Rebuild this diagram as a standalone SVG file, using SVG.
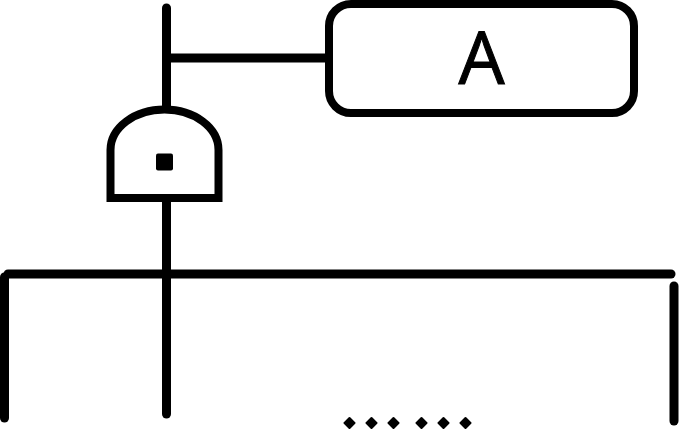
<svg xmlns="http://www.w3.org/2000/svg" width="679" height="429" viewBox="0 0 679 429">
<style>
.l{fill:none;stroke:#000;stroke-width:9;stroke-linecap:round;stroke-linejoin:round}
.s{fill:#fff;stroke:#000;stroke-width:8}
.d{fill:#000;stroke:#000;stroke-width:2;stroke-linejoin:round}
.q{fill:#000}
text{font-family:"Open Sans","Liberation Sans",sans-serif;font-size:73px;fill:#000;stroke:#000;stroke-width:1;text-anchor:middle}
</style>
<g id="connectors">
<path class="l" d="M166.500 8V106"/>
<path class="l" d="M167 58H326"/>
<path class="l" d="M166.500 202V414"/>
<path class="l" d="M8 274H671"/>
<path class="l" d="M4.500 277V418"/>
<path class="l" d="M674 286V421"/>
</g>
<g id="node-a">
<rect class="s" x="329" y="4" width="305" height="109" rx="22" ry="22"/>
<text x="481.500" y="84">A</text>
</g>
<g id="gate">
<path class="s" d="M110.500 198V150A54 40.500 0 0 1 218.500 150V198Z"/>
<rect class="q" x="156" y="153.500" width="17" height="17" rx="2"/>
</g>
<g id="dots">
<path class="d" d="M349.500 418l5 5l-5 5l-5-5Z"/>
<path class="d" d="M371.500 418l5 5l-5 5l-5-5Z"/>
<path class="d" d="M393.500 418l5 5l-5 5l-5-5Z"/>
<path class="d" d="M421.500 418l5 5l-5 5l-5-5Z"/>
<path class="d" d="M443.500 418l5 5l-5 5l-5-5Z"/>
<path class="d" d="M465.500 418l5 5l-5 5l-5-5Z"/>
</g>
</svg>
